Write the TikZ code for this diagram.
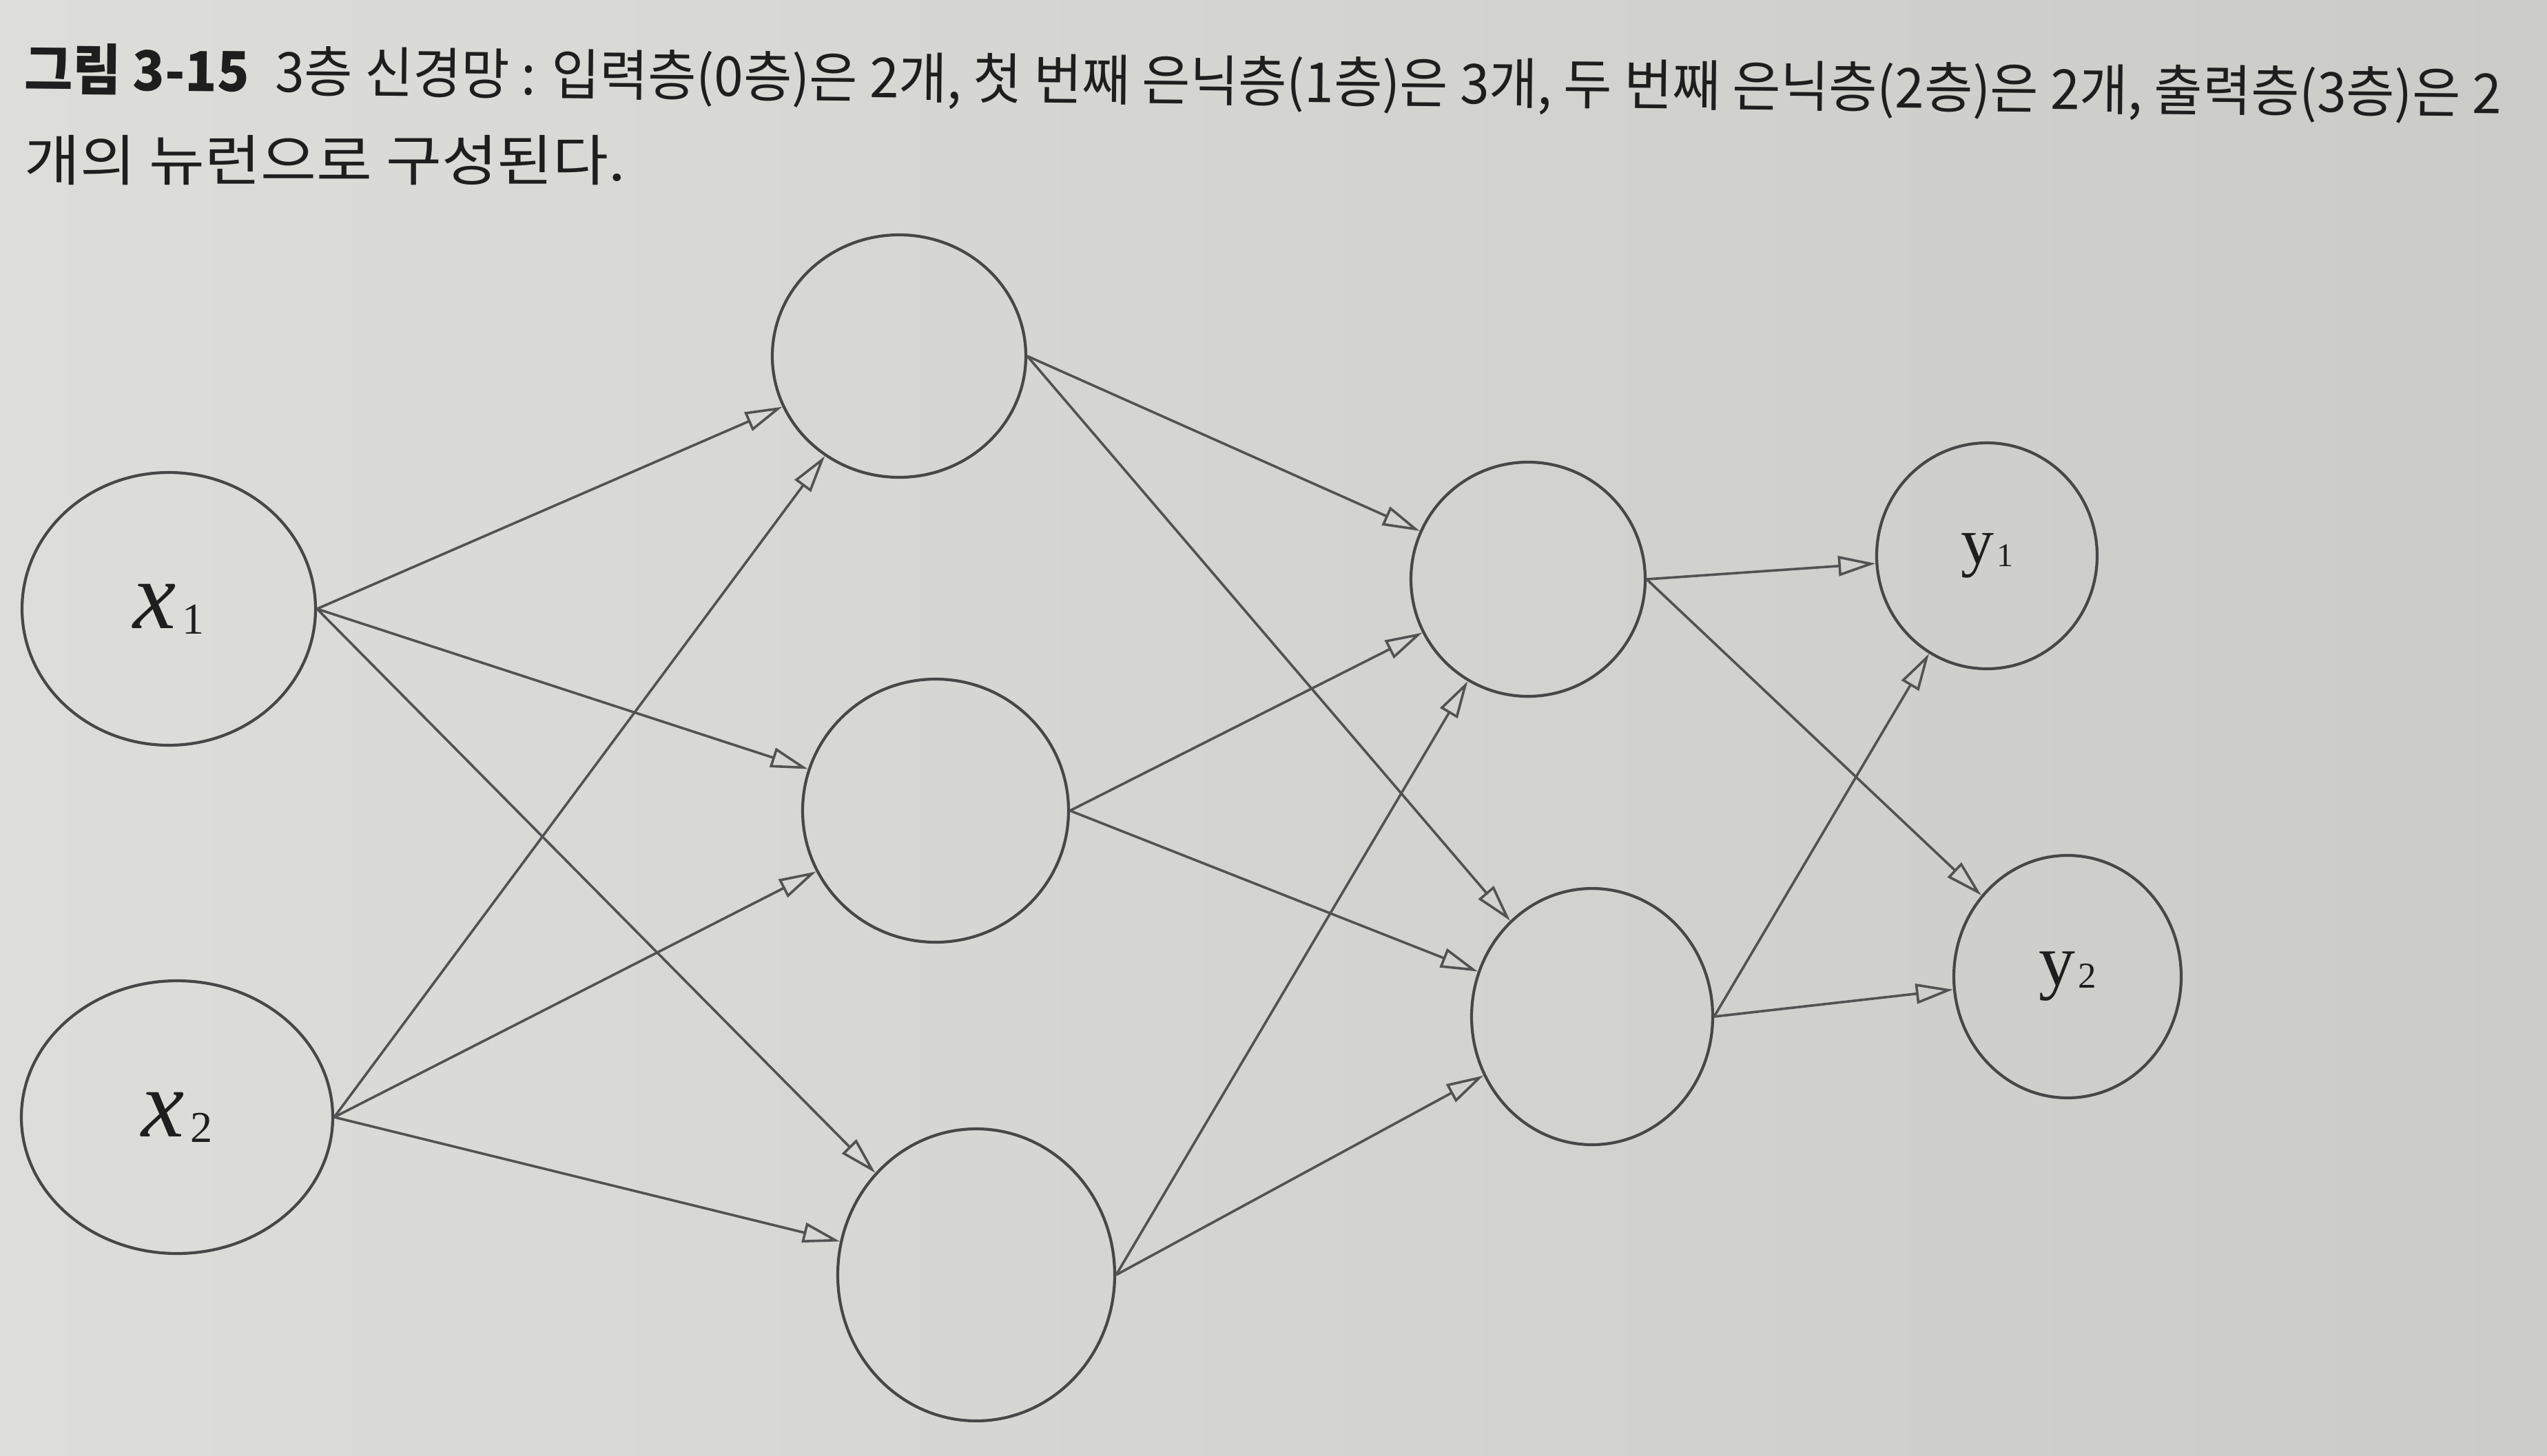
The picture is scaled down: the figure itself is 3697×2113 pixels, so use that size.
\documentclass[tikz,border=0pt]{standalone}
\usepackage{fontspec}
\usepackage{graphicx}
\usetikzlibrary{shapes.geometric,arrows.meta}
\setmainfont{Liberation Serif}
\newfontfamily\tms{Liberation Serif}
\newfontfamily\krfont{Noto Sans CJK KR}
\definecolor{paperL}{HTML}{DDDDD9}
\definecolor{paperR}{HTML}{CBCBC7}
\definecolor{linecol}{HTML}{474747}
\definecolor{arrowcol}{HTML}{525252}
\definecolor{ink}{HTML}{1E1E1E}
\tikzset{
  neuron/.style={ellipse, draw=linecol, line width=4.2pt, inner sep=0pt, text=ink},
  conn/.style={draw=arrowcol, line width=3.6pt,
    -{Triangle[open, length=54pt, width=29pt, line width=3.6pt]}},
  capline/.style={anchor=base west, inner sep=0pt, text=ink}
}
\newcommand{\xlab}[1]{{\tms\fontsize{140pt}{140pt}\selectfont\itshape x\kern8pt\raisebox{-8pt}{\fontsize{64pt}{64pt}\selectfont\upshape #1}}}
\newcommand{\ylab}[2]{{\tms\fontsize{#2pt}{#2pt}\selectfont y\kern4pt\raisebox{-4pt}{\fontsize{0.5\dimexpr #2pt\relax}{20pt}\selectfont #1}}}
\begin{document}
\begin{tikzpicture}[x=1pt,y=-1pt]
\useasboundingbox (0,0) rectangle (3697,2113);
\shade[left color=paperL, right color=paperR] (0,0) rectangle (3697,2113);
% caption
\node[capline, rotate=-0.56] (cap1) at (35,130) {\resizebox{3596pt}{\height}{\krfont\fontsize{80pt}{96pt}\selectfont{\bfseries 그림 3-15}\hspace{40pt}3층 신경망 : 입력층(0층)은 2개, 첫 번째 은닉층(1층)은 3개, 두 번째 은닉층(2층)은 2개, 출력층(3층)은 2}};
\node[capline] (cap2) at (35,262) {\resizebox{873pt}{\height}{\krfont\fontsize{80pt}{96pt}\selectfont 개의 뉴런으로 구성된다.}};
% neurons
\node[neuron, minimum width=426pt, minimum height=396pt] (x1) at (245,884) {\xlab{1}};
\node[neuron, minimum width=452pt, minimum height=396pt] (x2) at (257,1622) {\xlab{2}};
\node[neuron, minimum width=368pt, minimum height=352pt] (h1) at (1305,517) {};
\node[neuron, minimum width=386pt, minimum height=382pt] (h2) at (1358,1177) {};
\node[neuron, minimum width=402pt, minimum height=424pt] (h3) at (1417,1851) {};
\node[neuron, minimum width=340pt, minimum height=340pt] (s1) at (2218,841) {};
\node[neuron, minimum width=350pt, minimum height=372pt] (s2) at (2311,1476) {};
\node[neuron, minimum width=320pt, minimum height=328pt] (y1) at (2884,807) {\ylab{1}{96}};
\node[neuron, minimum width=330pt, minimum height=352pt] (y2) at (3001,1418) {\ylab{2}{106}};
% connectors
\foreach \s in {x1,x2}{\foreach \t in {h1,h2,h3}{\draw[conn] (\s.east) -- (\t);}}
\foreach \s in {h1,h2,h3}{\foreach \t in {s1,s2}{\draw[conn] (\s.east) -- (\t);}}
\foreach \s in {s1,s2}{\foreach \t in {y1,y2}{\draw[conn] (\s.east) -- (\t);}}
\end{tikzpicture}
\end{document}
